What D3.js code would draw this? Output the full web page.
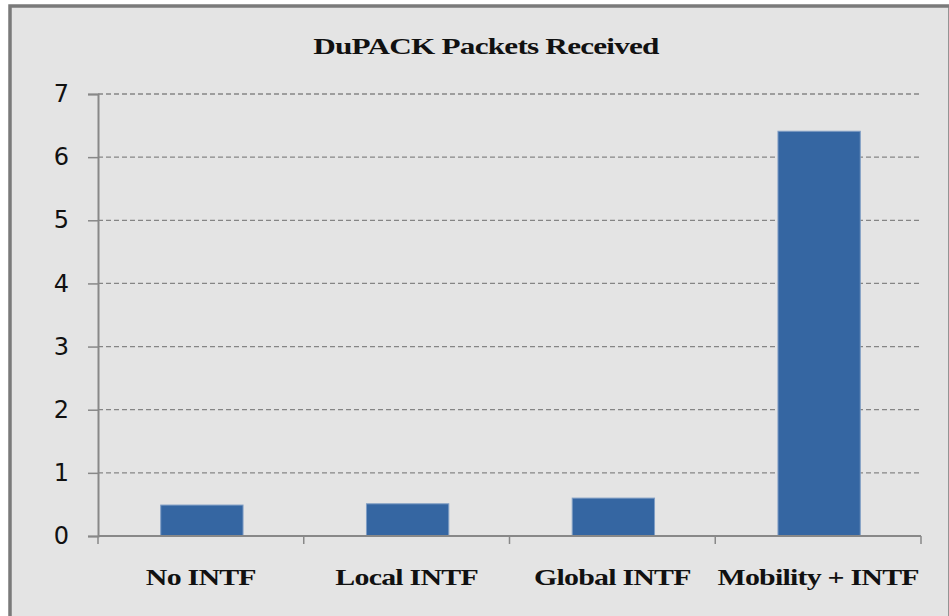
<!DOCTYPE html>
<html>
<head>
<meta charset="utf-8">
<script src="https://cdn.jsdelivr.net/npm/d3@7"></script>
<style>
  html, body { margin: 0; padding: 0; background: #ffffff; }
  svg { display: block; }
</style>
</head>
<body>
<div id="chart"></div>
<script>
'use strict';

var categories = ["No INTF", "Local INTF", "Global INTF", "Mobility + INTF"],
    packets = [0.49, 0.51, 0.60, 6.41],
    yTicks = [0, 1, 2, 3, 4, 5, 6, 7],
    title = "DuPACK Packets Received";

var W = 949, H = 616,
    MARGIN = { TOP: 94, RIGHT: 28, BOTTOM: 80, LEFT: 98 },
    PLOT_W = W - MARGIN.LEFT - MARGIN.RIGHT,
    PLOT_H = 536 - MARGIN.TOP,
    STRETCH = 1.3;   // the serif labels look widened in the original

var svg = d3.select("#chart").append("svg")
    .attr("width", W)
    .attr("height", H);

// frame
svg.append("rect")
    .attr("x", 0).attr("y", 0).attr("width", W).attr("height", H)
    .attr("fill", "#ffffff");
svg.append("rect")
    .attr("x", 10).attr("y", 6).attr("width", W - 9).attr("height", H + 20)
    .attr("fill", "#e4e4e4")
    .attr("stroke", "#7a7a7a")
    .attr("stroke-width", 3.5);

function widen(sel) {
    sel.each(function () {
        var len = this.getComputedTextLength();
        d3.select(this)
            .attr("textLength", len * STRETCH)
            .attr("lengthAdjust", "spacingAndGlyphs");
    });
}

svg.append("text")
    .attr("x", 486).attr("y", 54)
    .attr("text-anchor", "middle")
    .attr("font-family", "Liberation Serif, Times New Roman, serif")
    .attr("font-weight", "bold")
    .attr("font-size", 24)
    .attr("letter-spacing", -0.6)
    .attr("fill", "#111")
    .text(title)
    .call(widen);

var g = svg.append("g")
    .attr("transform", "translate(" + MARGIN.LEFT + "," + MARGIN.TOP + ")");

var x = d3.scaleBand().domain(categories).range([0, PLOT_W]).paddingInner(0.6).paddingOuter(0.3);
var xEdge = d3.scaleLinear().domain([0, categories.length]).range([0, PLOT_W]);
var y = d3.scaleLinear().domain([0, 7]).range([PLOT_H, 0]);

// gridlines
g.append("g").selectAll("line")
    .data(yTicks.filter(function (d) { return d > 0; }))
    .join("line")
    .attr("x1", 0).attr("x2", PLOT_W)
    .attr("y1", function (d) { return y(d); })
    .attr("y2", function (d) { return y(d); })
    .attr("stroke", "#858585")
    .attr("stroke-width", 1.3)
    .attr("stroke-dasharray", "5,3");

// bars
g.append("g").selectAll("rect")
    .data(packets)
    .join("rect")
    .attr("x", function (d, i) { return x(categories[i]) + 1; })
    .attr("width", x.bandwidth())
    .attr("y", function (d) { return y(d); })
    .attr("height", function (d) { return y(0) - y(d); })
    .attr("fill", "#3566a2")
    .attr("stroke", "#7f9dc4")
    .attr("stroke-width", 1);

// y axis
var yAxis = g.append("g")
    .call(d3.axisLeft(y).tickValues(yTicks).tickSize(10).tickPadding(19).tickFormat(d3.format("d")));
yAxis.select(".domain").attr("stroke", "#888").attr("stroke-width", 2);
yAxis.selectAll(".tick line").attr("stroke", "#888").attr("stroke-width", 1.5);
yAxis.selectAll(".tick text")
    .attr("font-family", "DejaVu Sans, sans-serif")
    .attr("font-size", 24)
    .attr("fill", "#111");

// x axis line + ticks at band edges
var xg = g.append("g").attr("transform", "translate(0," + PLOT_H + ")");
xg.append("line")
    .attr("x1", 0).attr("x2", PLOT_W)
    .attr("stroke", "#888").attr("stroke-width", 2);
xg.selectAll("line.tk")
    .data(d3.range(categories.length + 1))
    .join("line")
    .attr("class", "tk")
    .attr("x1", function (d) { return xEdge(d); })
    .attr("x2", function (d) { return xEdge(d); })
    .attr("y1", 0).attr("y2", 8)
    .attr("stroke", "#888").attr("stroke-width", 1.5);
xg.selectAll("text")
    .data(categories)
    .join("text")
    .attr("x", function (d) { return x(d) + x.bandwidth() / 2; })
    .attr("y", 49)
    .attr("text-anchor", "middle")
    .attr("font-family", "Liberation Serif, Times New Roman, serif")
    .attr("font-weight", "bold")
    .attr("font-size", 23)
    .attr("letter-spacing", -0.6)
    .attr("fill", "#111")
    .text(function (d) { return d; })
    .call(widen);
</script>
</body>
</html>
